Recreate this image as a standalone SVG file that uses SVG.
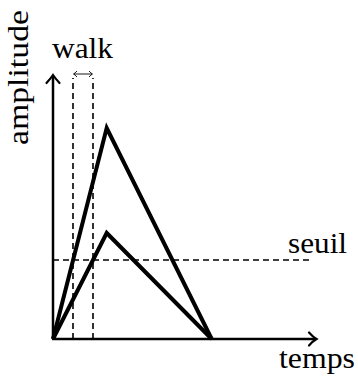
<svg xmlns="http://www.w3.org/2000/svg" width="358" height="380" viewBox="0 0 358 380">
<style>
text{font-family:"Liberation Serif","DejaVu Serif",serif;font-size:29px;fill:#000}
.axis{stroke:#000;stroke-width:2.5;fill:none}
.tri{stroke:#000;stroke-width:4;fill:none;stroke-linejoin:miter}
.dash{stroke:#000;stroke-width:1.6;fill:none;stroke-dasharray:6 4}
.head{stroke:#000;stroke-width:2.2;fill:none;stroke-linecap:round}
</style>
<rect width="358" height="380" fill="#fff"/>
<g id="connectors">
<line class="dash" x1="53" y1="260" x2="313" y2="260"/>
<line class="dash" x1="73" y1="339" x2="73" y2="78"/>
<line class="dash" x1="93" y1="339" x2="93" y2="78"/>
<line class="axis" x1="53" y1="339" x2="53" y2="76"/>
<path class="head" d="M46.5,83 Q51,78 53,75 Q55,78 59.5,83"/>
<line class="axis" x1="52" y1="339" x2="315" y2="339"/>
<path class="head" d="M309,332.5 Q313,337 316.5,339 Q313,341 309,345.5"/>
<line stroke="#000" stroke-width="0.9" x1="74" y1="74" x2="92" y2="74"/>
<path stroke="#000" stroke-width="0.9" fill="none" d="M77,71 Q75,73.3 73.5,74 Q75,74.7 77,77 M89,71 Q91,73.3 92.5,74 Q91,74.7 89,77"/>
</g>
<g id="pulse-large"><polyline class="tri" points="53,339 106.7,128 211.7,339"/></g>
<g id="pulse-small"><polyline class="tri" points="53,339 106.7,233 211.7,339"/></g>
<g id="label-amplitude"><text transform="translate(28,145) rotate(-90)" textLength="135" lengthAdjust="spacingAndGlyphs">amplitude</text></g>
<g id="label-walk"><text x="52" y="58" textLength="61" lengthAdjust="spacingAndGlyphs">walk</text></g>
<g id="label-seuil"><text x="288" y="253" textLength="59" lengthAdjust="spacingAndGlyphs">seuil</text></g>
<g id="label-temps"><text x="279" y="368" textLength="76" lengthAdjust="spacingAndGlyphs">temps</text></g>
</svg>
